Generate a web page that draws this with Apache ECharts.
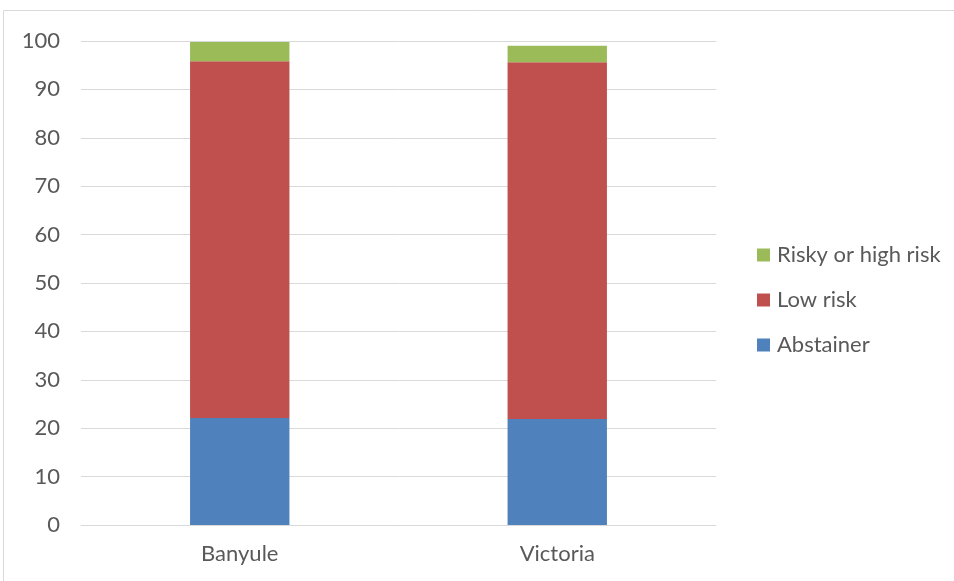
<!DOCTYPE html>
<html>
<head>
<meta charset="utf-8">
<style>
  html, body { margin: 0; padding: 0; background: #fff; }
  #chart { width: 954px; height: 581px; }
</style>
<script src="https://cdn.jsdelivr.net/npm/echarts@6/dist/echarts.min.js"></script>
</head>
<body>
<div id="chart"></div>
<script>
// Drinking risk categories, percent of adults
const regions = ['Banyule', 'Victoria'];
const abstainer = [22.1, 21.9];
const lowRisk = [73.7, 73.7];
const riskyOrHighRisk = [4.0, 3.4];
const yTicks = [0, 10, 20, 30, 40, 50, 60, 70, 80, 90, 100];

const textColor = '#595959';
const lineColor = '#d9d9d9';
const fontFamily = 'Lato, "Open Sans", sans-serif';
const fontSize = 22;

const chart = echarts.init(document.getElementById('chart'), null, { renderer: 'canvas' });

function bar(name, data, color) {
  return {
    name: name,
    type: 'bar',
    stack: 'total',
    data: data,
    barWidth: '31.3%',
    itemStyle: { color: color },
    emphasis: { disabled: true }
  };
}

chart.setOption({
  animation: false,
  textStyle: { fontFamily: fontFamily },
  graphic: [{
    type: 'rect',
    shape: { x: 3.5, y: 10.5, width: 1000, height: 1000 },
    style: { fill: 'none', stroke: lineColor, lineWidth: 1 },
    silent: true
  }],
  grid: { left: 81, right: 238, top: 41, bottom: 56, containLabel: false },
  legend: {
    orient: 'vertical',
    left: 757,
    top: 244,
    padding: 0,
    itemWidth: 13,
    itemHeight: 13,
    itemGap: 23,
    icon: 'rect',
    data: ['Risky or high risk', 'Low risk', 'Abstainer'],
    textStyle: {
      color: textColor, fontSize: fontSize, lineHeight: 22,
      fontFamily: fontFamily, padding: [0, 0, 0, 2]
    }
  },
  xAxis: {
    type: 'category',
    data: regions,
    axisLine: { lineStyle: { color: lineColor, width: 1 } },
    axisTick: { show: false },
    axisLabel: { color: textColor, fontSize: fontSize, margin: 18, fontFamily: fontFamily }
  },
  yAxis: {
    type: 'value',
    min: yTicks[0],
    max: yTicks[yTicks.length - 1],
    interval: yTicks[1] - yTicks[0],
    axisLine: { show: false },
    axisTick: { show: false },
    splitLine: { lineStyle: { color: lineColor, width: 1 } },
    axisLabel: { color: textColor, fontSize: fontSize, margin: 21, fontFamily: fontFamily }
  },
  series: [
    bar('Abstainer', abstainer, '#4f81bd'),
    bar('Low risk', lowRisk, '#c0504d'),
    bar('Risky or high risk', riskyOrHighRisk, '#9bbb59')
  ]
});
</script>
</body>
</html>
